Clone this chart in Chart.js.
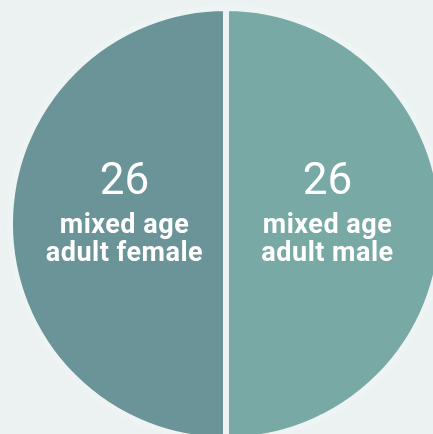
<!DOCTYPE html>
<html>
<head>
<meta charset="utf-8">
<script src="https://cdn.jsdelivr.net/npm/chart.js@4"></script>
<style>
  html, body { margin: 0; padding: 0; width: 433px; height: 434px; overflow: hidden; background: #ecf2f2; }
  #wrap { position: absolute; left: 7px; top: 5px; width: 438px; height: 438px; }
</style>
</head>
<body>
<div id="wrap"><canvas id="pie"></canvas></div>
<script>
// slices go clockwise from the top: right half first, then left half
const groups = ['mixed age adult male', 'mixed age adult female'];
const labelLines = [['mixed age', 'adult male'], ['mixed age', 'adult female']];
const counts = [26, 26];
const colors = ['#79a9a5', '#6a9497'];

// draws the number and the two text lines inside each half
const sliceLabels = {
    id: 'sliceLabels',
    afterDatasetsDraw(chart) {
        const ctx = chart.ctx;
        const meta = chart.getDatasetMeta(0);
        meta.data.forEach((arc, i) => {
            const p = arc.getProps(['x', 'y', 'startAngle', 'endAngle', 'outerRadius'], true);
            const mid = (p.startAngle + p.endAngle) / 2;
            const x = p.x + Math.cos(mid) * p.outerRadius * 0.47;
            const y = p.y + Math.sin(mid) * p.outerRadius * 0.47;
            ctx.save();
            ctx.fillStyle = '#ffffff';
            ctx.textAlign = 'center';
            ctx.textBaseline = 'alphabetic';
            ctx.font = '44px Roboto';
            ctx.letterSpacing = '0px';
            ctx.fillText(String(counts[i]), x, y - 30);
            ctx.font = 'bold 27px Roboto';
            ctx.letterSpacing = '0.5px';
            ctx.fillText(labelLines[i][0], x, y + 9);
            ctx.fillText(labelLines[i][1], x, y + 37);
            ctx.restore();
        });
    }
};

new Chart(document.getElementById('pie'), {
    type: 'pie',
    data: {
        labels: groups,
        datasets: [{
            data: counts,
            backgroundColor: colors,
            borderColor: '#eef4f4',
            borderWidth: 6
        }]
    },
    options: {
        responsive: true,
        maintainAspectRatio: false,
        animation: false,
        layout: { padding: 0 },
        plugins: {
            legend: { display: false },
            tooltip: { enabled: false }
        }
    },
    plugins: [sliceLabels]
});
</script>
</body>
</html>
